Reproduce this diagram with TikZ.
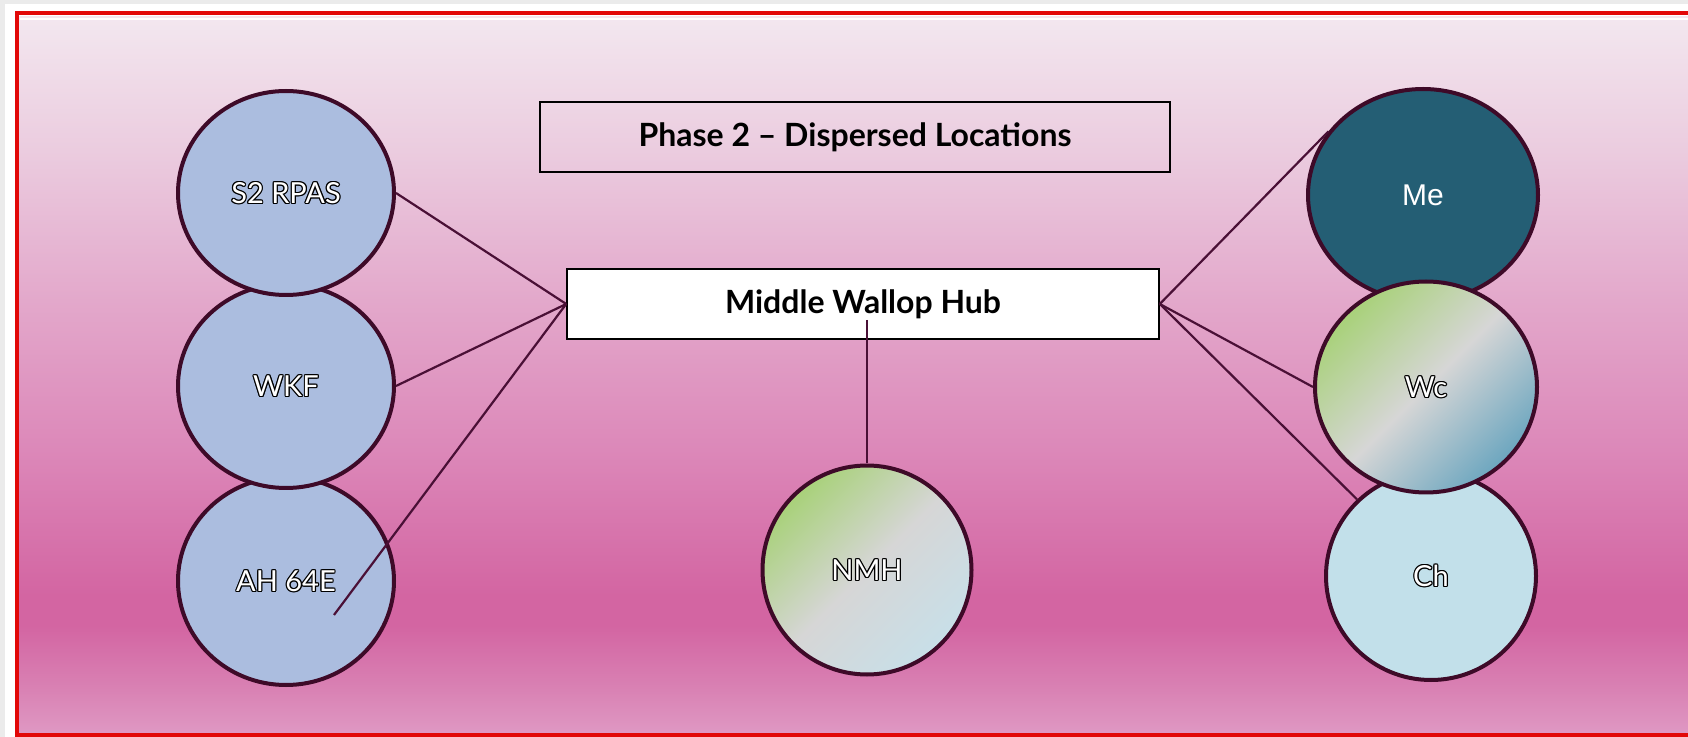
\documentclass[tikz,border=0pt]{standalone}
\usepackage{fontspec}
\newfontfamily\latof{Lato}
\newfontfamily\arialf{Liberation Sans}
\usetikzlibrary{shapes.geometric}
\definecolor{plum}{RGB}{62,10,40}
\definecolor{linec}{RGB}{74,16,54}
\definecolor{redb}{RGB}{226,8,8}
\definecolor{bgA}{RGB}{243,231,239}
\definecolor{bgB}{RGB}{235,204,223}
\definecolor{bgC}{RGB}{227,168,203}
\definecolor{bgD}{RGB}{220,136,185}
\definecolor{bgE}{RGB}{211,101,162}
\definecolor{bgF}{RGB}{217,130,180}
\definecolor{bgG}{RGB}{223,152,195}
\definecolor{lblue}{RGB}{171,189,223}
\definecolor{mefill}{RGB}{36,94,116}
\definecolor{chfill}{RGB}{194,224,234}
\definecolor{gA}{RGB}{168,209,121}
\definecolor{gB}{RGB}{214,214,214}
\definecolor{gC}{RGB}{108,166,191}
\definecolor{gD}{RGB}{200,223,232}
\pgfdeclareverticalshading{panelshade}{100bp}{%
  color(0bp)=(bgG); color(25bp)=(bgG); color(28bp)=(bgF);
  color(32.5bp)=(bgE); color(34.6bp)=(bgE); color(44.8bp)=(bgD);
  color(55.2bp)=(bgC); color(65.7bp)=(bgB); color(75bp)=(bgA);
  color(100bp)=(bgA)}
\newcommand\oltext[1]{{%
  \def\sh##1##2{\rlap{\kern##1\raise##2\hbox{\color{black}#1}}}%
  \sh{.6pt}{0pt}\sh{-.6pt}{0pt}\sh{0pt}{.6pt}\sh{0pt}{-.6pt}%
  \sh{.43pt}{.43pt}\sh{-.43pt}{.43pt}\sh{.43pt}{-.43pt}\sh{-.43pt}{-.43pt}%
  \hbox{\color{white}#1}}}
\tikzset{
  circ/.style={ellipse, draw=plum, line width=2pt, inner sep=0pt,
    font=\latof\fontsize{14.5}{17}\selectfont},
  gradcirc/.style={circ, top color=gA, bottom color=#1, middle color=gB, shading angle=45},
  conn/.style={draw=linec, line width=1.1pt},
  boxst/.style={draw=black, line width=0.8pt, inner sep=0pt,
    font=\latof\bfseries\fontsize{16}{19}\selectfont}
}
\begin{document}
\begin{tikzpicture}[x=0.5pt,y=-0.5pt]
\useasboundingbox (0,0) rectangle (1688,737);
% frame
\fill[black!8] (0,0) rectangle (1688,737);
\fill[white] (5,4) rectangle (1688,737);
\shade[shading=panelshade] (19,17) rectangle (1688,733);
\draw[white,line width=1pt] (20,19) -- (1688,19);
\draw[redb,line width=2pt] (16.5,13.5) rectangle (1694,735);
% boxes
\node[boxst,minimum width=315pt,minimum height=35pt] (phase) at (855,137) {Phase 2 \textendash\ Dispersed Locations};
\node[boxst,fill=white,minimum width=296pt,minimum height=35pt] (hub) at (863,304) {\raisebox{2pt}{Middle Wallop Hub}};
% left column
\node[circ,fill=lblue,minimum width=108pt,minimum height=104pt] (AH) at (286,581) {\oltext{AH 64E}};
\node[circ,fill=lblue,minimum width=108pt,minimum height=102pt] (WKF) at (286,386) {\oltext{WKF}};
\node[circ,fill=lblue,minimum width=108pt,minimum height=102pt] (S2) at (286,193) {\oltext{S2 RPAS}};
% right column
\node[circ,fill=mefill,minimum width=115pt,minimum height=106pt,font=\arialf\fontsize{15}{18}\selectfont,text=white] (Me) at (1423,195) {Me};
\node[circ,fill=chfill,minimum width=105pt,minimum height=104pt] (Ch) at (1431,576) {\oltext{Ch}};
\node[gradcirc=gC,minimum width=111pt,minimum height=105.5pt] (Wc) at (1426,387) {\oltext{Wc}};
% centre
\node[gradcirc=gD,minimum width=104.5pt,minimum height=104.5pt] (NMH) at (867,570) {\oltext{NMH}};
% connectors
\coordinate (ahend) at (334,615);
\coordinate (hubin) at (867,320);
\draw[conn] (hub.west) -- (S2.east);
\draw[conn] (hub.west) -- (WKF.east);
\draw[conn] (hub.west) -- (ahend);
\draw[conn] (hub.east) -- (Me.146);
\draw[conn] (hub.east) -- (Wc.west);
\draw[conn] (hub.east) -- (Ch.134);
\draw[conn] (hubin) -- (NMH.north);
\end{tikzpicture}
\end{document}
